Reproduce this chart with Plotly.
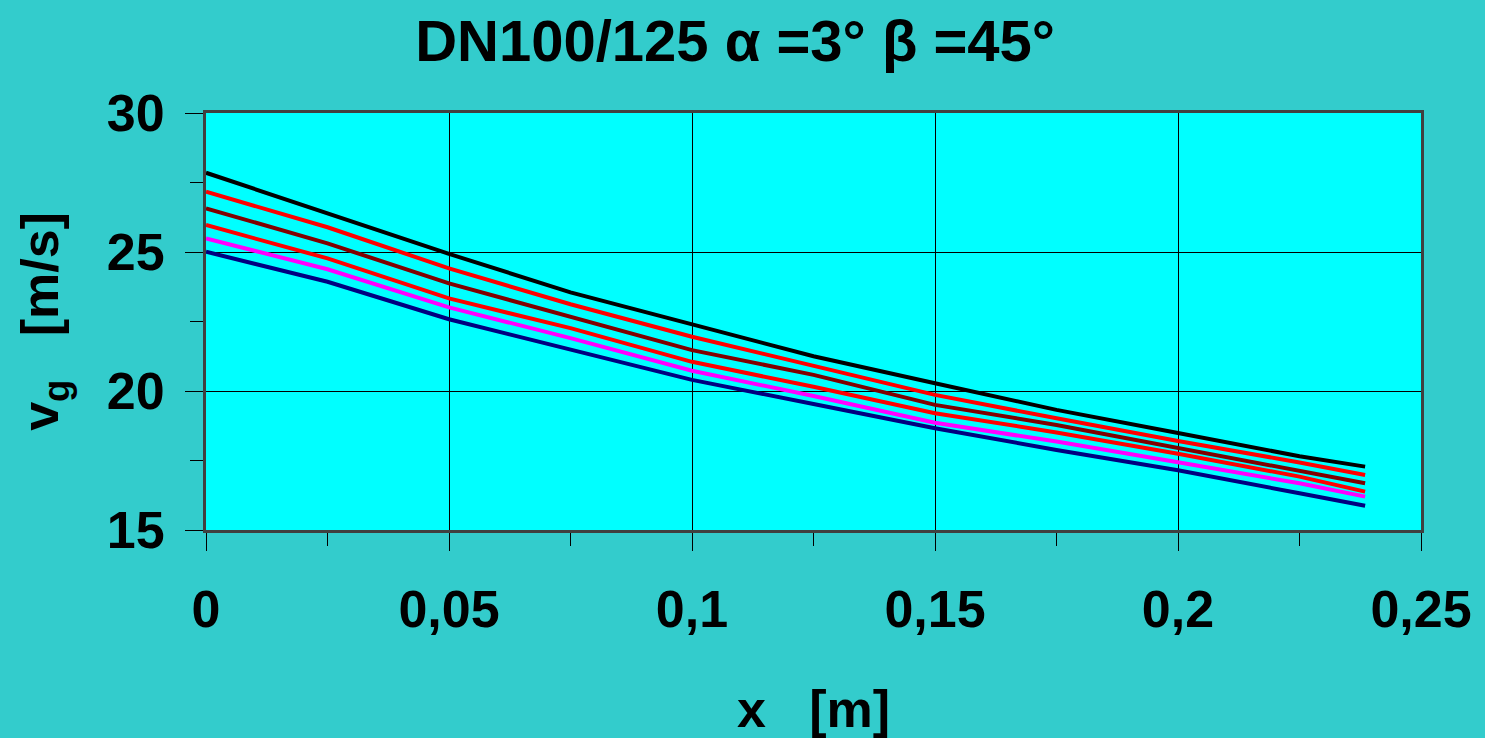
import plotly.graph_objects as go

# Gas velocity along the diffuser axis, one curve per operating case
x_m = [0, 0.025, 0.05, 0.075, 0.1, 0.125, 0.15, 0.175, 0.2, 0.225, 0.2385]
v_black = [27.85, 26.39, 24.93, 23.55, 22.41, 21.25, 20.28, 19.32, 18.49, 17.65, 17.28]
v_red_a = [27.17, 25.89, 24.41, 23.12, 21.95, 20.90, 19.86, 19.02, 18.20, 17.43, 16.98]
v_darkred = [26.57, 25.31, 23.87, 22.67, 21.47, 20.58, 19.50, 18.78, 17.95, 17.10, 16.68]
v_red_b = [25.97, 24.77, 23.33, 22.26, 21.05, 20.15, 19.20, 18.51, 17.74, 16.92, 16.38]
v_magenta = [25.49, 24.38, 23.01, 21.90, 20.73, 19.82, 18.86, 18.18, 17.44, 16.68, 16.20]
v_navy = [25.01, 23.93, 22.58, 21.50, 20.40, 19.53, 18.66, 17.88, 17.15, 16.32, 15.87]

series = [
    (v_navy, "#000080"),
    (v_magenta, "#FF00FF"),
    (v_red_b, "#FF0000"),
    (v_darkred, "#800000"),
    (v_red_a, "#FF0000"),
    (v_black, "#000000"),
]

FONT = "Liberation Sans, Arial, sans-serif"

fig = go.Figure()
for vals, col in series:
    fig.add_trace(go.Scatter(x=x_m, y=vals, mode="lines",
                             line=dict(color=col, width=4),
                             showlegend=False, hoverinfo="skip"))

axis_common = dict(
    automargin=False,
    showline=True, linecolor="#404040", linewidth=3, mirror=True,
    showgrid=True, gridcolor="#000000", gridwidth=1,
    zeroline=False,
    ticks="outside", ticklen=18, tickcolor="#000000", tickwidth=1,
    tickfont=dict(family=FONT, size=52, color="#000000", weight="bold"),
)

fig.update_layout(
    width=1485, height=738,
    paper_bgcolor="#33CCCC", plot_bgcolor="#00FFFF",
    margin=dict(l=206, r=64, t=113, b=208),
    separators=", ",
    title=dict(text="DN100/125 α =3° β =45°", x=0.495, xanchor="center",
               y=0.945, yanchor="middle", xref="container", yref="container",
               font=dict(family=FONT, size=58, color="#000000", weight="bold")),
    xaxis=dict(
        range=[0, 0.25], dtick=0.05, tick0=0,
        minor=dict(dtick=0.025, ticks="outside", ticklen=13, tickcolor="#000000",
                   tickwidth=1, showgrid=False),
        ticklabelstandoff=14,
        title=dict(text="x   [m]", standoff=62,
                   font=dict(family=FONT, size=52, color="#000000", weight="bold")),
        **axis_common,
    ),
    yaxis=dict(
        range=[15, 30], dtick=5, tick0=15,
        minor=dict(dtick=2.5, ticks="outside", ticklen=13, tickcolor="#000000",
                   tickwidth=1, showgrid=False),
        ticklabelstandoff=10,
        title=dict(text="v<sub>g</sub>   [m/s]", standoff=32,
                   font=dict(family=FONT, size=52, color="#000000", weight="bold")),
        **axis_common,
    ),
)

fig.write_html("out.html")
